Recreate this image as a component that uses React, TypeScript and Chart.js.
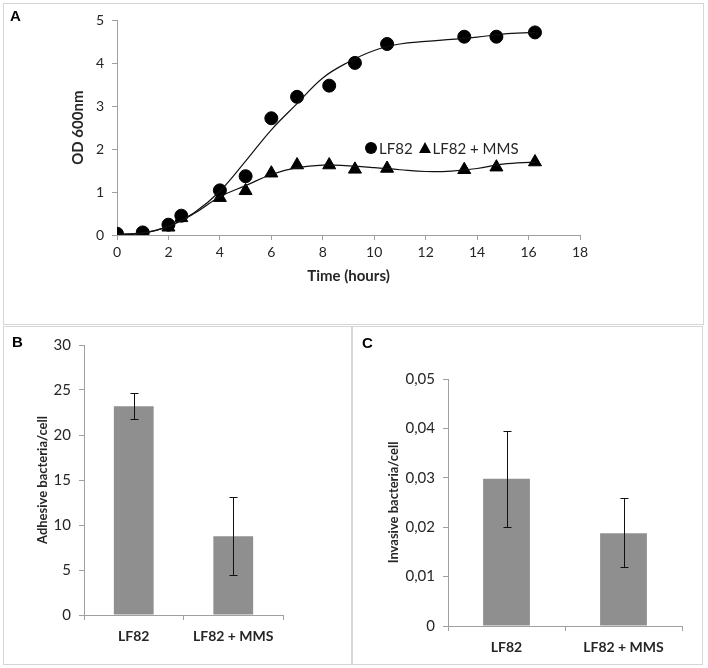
import React, { useEffect, useRef } from 'react';
import { Chart, registerables } from 'chart.js';

Chart.register(...registerables);

// ---- Panel A: growth curves ----
const growthHours = [0, 1, 2, 2.5, 4, 5, 6, 7, 8.25, 9.25, 10.5, 13.5, 14.75, 16.25];
const lf82OD = [0.03, 0.06, 0.24, 0.45, 1.04, 1.37, 2.72, 3.22, 3.48, 4.01, 4.45, 4.62, 4.62, 4.72];
const mmsOD = [0.0, 0.02, 0.18, 0.4, 0.87, 1.03, 1.44, 1.63, 1.63, 1.53, 1.55, 1.52, 1.58, 1.7];
// trend lines
const trendHours = [0, 1, 2, 3, 4, 5, 6, 7, 8, 9, 10, 11, 12, 13, 14, 15, 16.25];
const lf82Trend = [0.02, 0.05, 0.2, 0.52, 1.02, 1.72, 2.45, 3.06, 3.66, 4.03, 4.3, 4.45, 4.51, 4.56, 4.61, 4.68, 4.72];
const mmsTrend = [0.0, 0.04, 0.2, 0.5, 0.89, 1.15, 1.41, 1.57, 1.63, 1.61, 1.57, 1.52, 1.48, 1.49, 1.55, 1.65, 1.7];
const odTicks = [0, 1, 2, 3, 4, 5];
const hourTicks = [0, 2, 4, 6, 8, 10, 12, 14, 16, 18];

// ---- Panels B & C: bars ----
const groups = ['LF82', 'LF82 + MMS'];
const adhesiveMean = [23.2, 8.75];
const adhesiveLow = [21.8, 4.4];
const adhesiveHigh = [24.7, 13.1];
const adhesiveTicks = [0, 5, 10, 15, 20, 25, 30];
const invasiveMean = [0.0298, 0.0188];
const invasiveLow = [0.0201, 0.0119];
const invasiveHigh = [0.0395, 0.0259];
const invasiveTicks = [0, 0.01, 0.02, 0.03, 0.04, 0.05];

const FONT = 'Lato, "Open Sans", sans-serif';
const AXIS = '#a0a0a0';
const TEXT = '#262626';
const BORDER = '#d6d6d6';
const BAR = '#8f8f8f';

const errorBarPlugin = {
  id: 'errorBars',
  afterDatasetsDraw(chart: any, _args: any, opts: any) {
    const low = opts && opts.low;
    const high = opts && opts.high;
    if (!low || !high) return;
    const meta = chart.getDatasetMeta(0);
    const y = chart.scales.y;
    const ctx = chart.ctx;
    ctx.save();
    ctx.strokeStyle = '#111';
    ctx.lineWidth = 1;
    meta.data.forEach((bar: any, i: number) => {
      const x = Math.round(bar.x) + 0.5;
      const yl = Math.round(y.getPixelForValue(low[i])) + 0.5;
      const yh = Math.round(y.getPixelForValue(high[i])) + 0.5;
      ctx.beginPath();
      ctx.moveTo(x, yl);
      ctx.lineTo(x, yh);
      ctx.moveTo(x - 4, yh);
      ctx.lineTo(x + 4, yh);
      ctx.moveTo(x - 4, yl);
      ctx.lineTo(x + 4, yl);
      ctx.stroke();
    });
    ctx.restore();
  },
};

function ChartBox({ config, box }: { config: any; box: any }) {
  const ref = useRef<HTMLCanvasElement | null>(null);
  useEffect(() => {
    const chart = new Chart(ref.current as HTMLCanvasElement, config);
    return () => chart.destroy();
  }, []);
  return (
    <div style={{ position: 'absolute', ...box }}>
      <canvas ref={ref} />
    </div>
  );
}

const axisGrid = {
  drawOnChartArea: false,
  drawTicks: true,
  tickLength: 5,
  color: AXIS,
  lineWidth: 1,
};

const growthConfig = {
  type: 'line',
  data: {
    datasets: [
      {
        label: 'LF82 trend',
        data: trendHours.map((x, i) => ({ x, y: lf82Trend[i] })),
        borderColor: '#111',
        borderWidth: 1.2,
        pointRadius: 0,
        tension: 0.4,
        fill: false,
      },
      {
        label: 'LF82 + MMS trend',
        data: trendHours.map((x, i) => ({ x, y: mmsTrend[i] })),
        borderColor: '#111',
        borderWidth: 1.2,
        pointRadius: 0,
        tension: 0.4,
        fill: false,
      },
      {
        label: 'LF82',
        data: growthHours.map((x, i) => ({ x, y: lf82OD[i] })),
        showLine: false,
        pointStyle: 'circle',
        pointRadius: 6.5,
        backgroundColor: '#000',
        borderColor: '#000',
      },
      {
        label: 'LF82 + MMS',
        data: growthHours.map((x, i) => ({ x, y: mmsOD[i] })),
        showLine: false,
        pointStyle: 'triangle',
        pointRadius: 7.5,
        backgroundColor: '#000',
        borderColor: '#000',
      },
    ],
  },
  options: {
    animation: false,
    responsive: true,
    maintainAspectRatio: false,
    layout: { padding: { top: 16, right: 122, bottom: 0, left: 0 } },
    plugins: { legend: { display: false }, tooltip: { enabled: false } },
    scales: {
      x: {
        type: 'linear',
        min: 0,
        max: 18,
        afterBuildTicks: (s: any) => { s.ticks = hourTicks.map((v) => ({ value: v })); },
        afterFit: (s: any) => { s.height = 88; },
        grid: axisGrid,
        border: { display: true, color: AXIS },
        ticks: { color: TEXT, font: { family: FONT, size: 14 }, padding: 4 },
        title: {
          display: true,
          text: 'Time (hours)',
          color: TEXT,
          font: { family: FONT, size: 15, weight: 'bold' },
          padding: { top: 0, bottom: 38 },
        },
      },
      y: {
        min: 0,
        max: 5,
        afterBuildTicks: (s: any) => { s.ticks = odTicks.map((v) => ({ value: v })); },
        afterFit: (s: any) => { s.width = 113; },
        grid: axisGrid,
        border: { display: true, color: AXIS },
        ticks: { color: TEXT, font: { family: FONT, size: 14 }, padding: 8 },
        title: {
          display: true,
          text: 'OD 600nm',
          color: TEXT,
          font: { family: FONT, size: 15, weight: 'bold' },
          padding: { top: 65, bottom: 0 },
        },
      },
    },
  },
};

function barConfig(
  values: number[],
  low: number[],
  high: number[],
  ticks: number[],
  max: number,
  yTitle: string,
  dims: { top: number; right: number; yWidth: number; xHeight: number; titlePad: number },
  fmt: (v: number) => string,
) {
  return {
    type: 'bar',
    data: {
      labels: groups,
      datasets: [
        {
          data: values,
          backgroundColor: BAR,
          borderWidth: 0,
          barPercentage: 0.4,
          categoryPercentage: 1,
        },
      ],
    },
    plugins: [errorBarPlugin],
    options: {
      animation: false,
      responsive: true,
      maintainAspectRatio: false,
      layout: { padding: { top: dims.top, right: dims.right, bottom: 0, left: 0 } },
      plugins: {
        legend: { display: false },
        tooltip: { enabled: false },
        errorBars: { low, high },
      },
      scales: {
        x: {
          afterFit: (s: any) => { s.height = dims.xHeight; },
          grid: { ...axisGrid, offset: true },
          border: { display: true, color: AXIS },
          ticks: { color: TEXT, font: { family: FONT, size: 14, weight: 'bold' }, padding: 8 },
        },
        y: {
          min: 0,
          max,
          afterBuildTicks: (s: any) => { s.ticks = ticks.map((v) => ({ value: v })); },
          afterFit: (s: any) => { s.width = dims.yWidth; },
          grid: axisGrid,
          border: { display: true, color: AXIS },
          ticks: {
            color: TEXT,
            font: { family: FONT, size: 15 },
            padding: 8,
            callback: (v: any) => fmt(Number(v)),
          },
          title: {
            display: true,
            text: yTitle,
            color: TEXT,
            font: { family: FONT, size: 13, weight: 'bold' },
            padding: { top: dims.titlePad, bottom: 0 },
          },
        },
      },
    },
  };
}

const adhesiveConfig = barConfig(
  adhesiveMean, adhesiveLow, adhesiveHigh, adhesiveTicks, 30,
  'Adhesive bacteria/cell',
  { top: 18, right: 67, yWidth: 80, xHeight: 48, titlePad: 31 },
  (v) => String(v),
);

const invasiveConfig = barConfig(
  invasiveMean, invasiveLow, invasiveHigh, invasiveTicks, 0.05,
  'Invasive bacteria/cell',
  { top: 52, right: 19, yWidth: 95, xHeight: 37, titlePad: 33 },
  (v) => (v === 0 ? '0' : v.toFixed(2).replace('.', ',')),
);

const panelBorder = (left: number, top: number, width: number, height: number) => ({
  position: 'absolute' as const,
  left,
  top,
  width,
  height,
  boxSizing: 'border-box' as const,
  border: `1px solid ${BORDER}`,
});

const panelLetter = (left: number, top: number) => ({
  position: 'absolute' as const,
  left,
  top,
  fontFamily: '"Liberation Sans", Arial, sans-serif',
  fontWeight: 'bold' as const,
  fontSize: 15,
  lineHeight: '15px',
  color: '#000',
});

export default function App() {
  return (
    <div style={{ position: 'absolute', left: 0, top: 0, width: 708, height: 668, background: '#fff', overflow: 'hidden' }}>
      <div style={panelBorder(3, 3, 701, 322)} />
      <div style={panelBorder(3, 326, 349, 339)} />
      <div style={panelBorder(352, 326, 351, 339)} />

      <ChartBox config={growthConfig} box={{ left: 4, top: 4, width: 698, height: 319 }} />
      <ChartBox config={adhesiveConfig} box={{ left: 4, top: 327, width: 346, height: 336 }} />
      <ChartBox config={invasiveConfig} box={{ left: 353, top: 327, width: 348, height: 336 }} />

      <div style={panelLetter(10, 8)}>A</div>
      <div style={panelLetter(12, 334)}>B</div>
      <div style={panelLetter(362, 335)}>C</div>

      <div
        style={{
          position: 'absolute',
          left: 365,
          top: 139,
          height: 17,
          display: 'flex',
          alignItems: 'center',
          fontFamily: FONT,
          fontSize: 15,
          color: TEXT,
          whiteSpace: 'nowrap',
        }}
      >
        <span style={{ display: 'inline-block', width: 12, height: 12, borderRadius: '50%', background: '#000', marginRight: 2 }} />
        <span>LF82</span>
        <span
          style={{
            display: 'inline-block',
            width: 0,
            height: 0,
            borderLeft: '6px solid transparent',
            borderRight: '6px solid transparent',
            borderBottom: '11px solid #000',
            marginLeft: 6,
            marginRight: 2,
          }}
        />
        <span>LF82 + MMS</span>
      </div>
    </div>
  );
}
